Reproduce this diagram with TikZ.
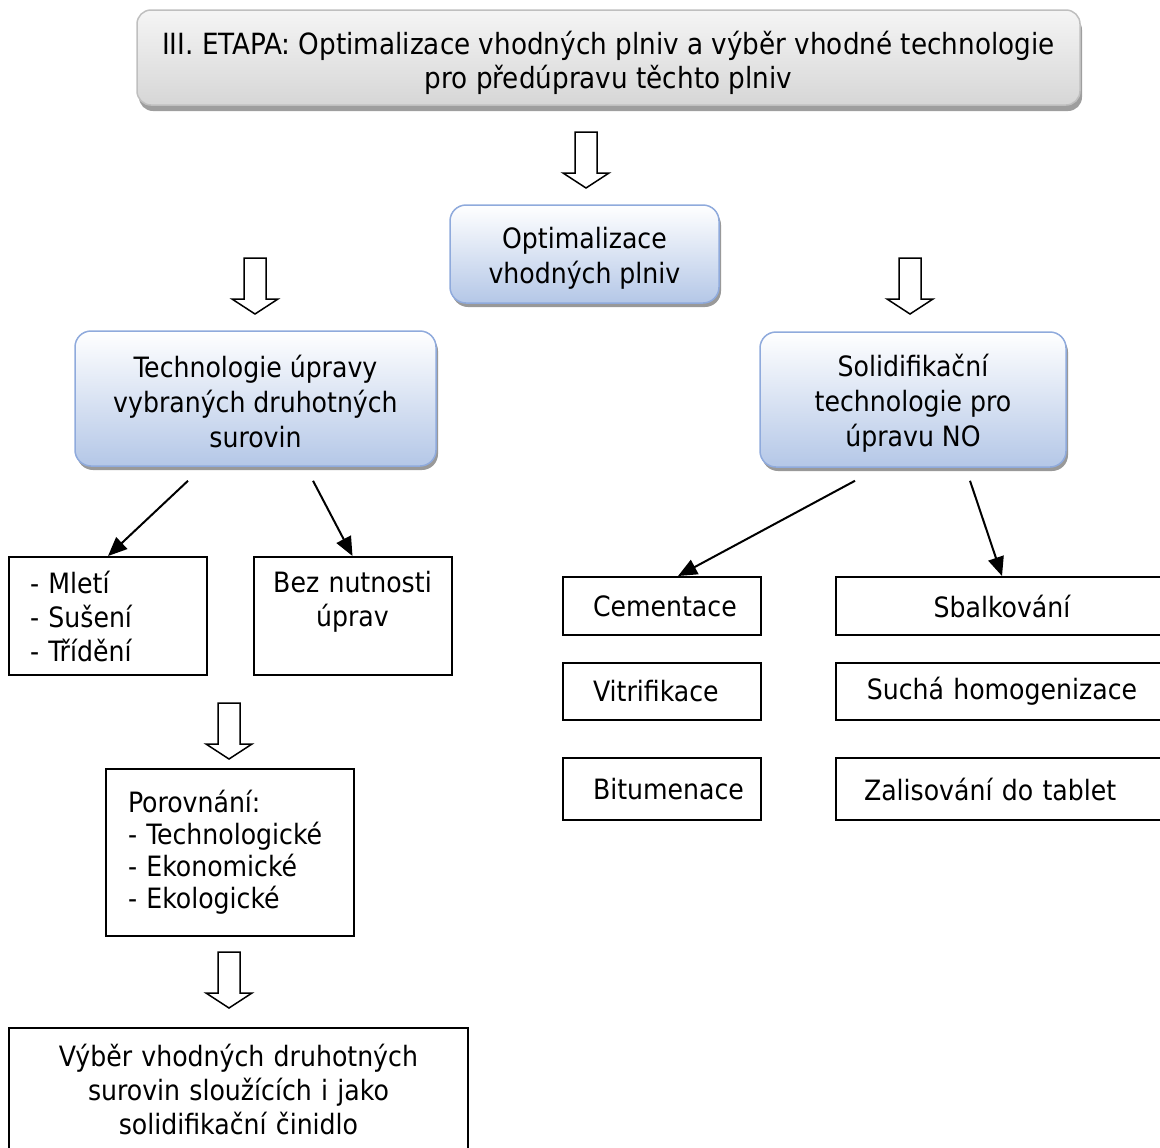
\documentclass[tikz,border=0pt]{standalone}
\usepackage{fontspec}
\setmainfont{DejaVu Sans Condensed}
\usepackage{tikz}
\usetikzlibrary{arrows.meta, shadows}

\definecolor{edgeblue}{HTML}{8FAADC}
\definecolor{fillblue}{HTML}{B4C7E7}
\newcommand{\lowtext}[1]{\rule{0pt}{#1}} % pushes the first line down a little

\begin{document}
\begin{tikzpicture}[
                x=0.5pt, y=-0.5pt, % one unit is one pixel of the sketch
                every node/.style={font=\fontsize{14}{17}\selectfont, line width=1pt},
                plainbox/.style={draw, rectangle, inner ysep=0pt}, % black frames
                bluebox/.style={draw=edgeblue, line width=0.75pt, rounded corners=8pt, align=center,
                    font=\fontsize{14}{17.5}\selectfont, top color=white, bottom color=fillblue,
                    drop shadow={shadow xshift=1pt, shadow yshift=-2pt, fill=black!40, opacity=1}},
                graybox/.style={draw=black!25, line width=0.75pt, rounded corners=7pt, align=center,
                    font=\fontsize{14.6}{17.3}\selectfont, top color=black!4, bottom color=black!16,
                    drop shadow={shadow xshift=1pt, shadow yshift=-3pt, fill=black!38, opacity=1}},
                link/.style={-{Triangle[length=9.5pt, width=8pt]}, line width=1pt}, % thin arrows
                hollow/.style={draw, line width=0.75pt, fill=white} % block arrows
                ]
                \clip (0,0) rectangle (1160,1147);

                % rounded boxes
                \node[graybox, minimum width=471.5pt, minimum height=47.5pt] (etapa) at (608.5,57.5)
                    {\lowtext{17pt}III. ETAPA: Optimalizace vhodných plniv a výběr vhodné technologie\\pro předúpravu těchto plniv};
                \node[bluebox, minimum width=134.5pt, minimum height=49pt] (plniva) at (584.5,254)
                    {\lowtext{14.5pt}Optimalizace\\vhodných plniv};
                \node[bluebox, minimum width=180.5pt, minimum height=67.5pt] (druhot) at (255.5,398.5)
                    {\lowtext{14.5pt}Technologie úpravy\\vybraných druhotných\\surovin};
                \node[bluebox, minimum width=153pt, minimum height=67.5pt] (solid) at (913,399.5)
                    {\lowtext{14.5pt}Solidifikační\\technologie pro\\úpravu NO};

                % left branch
                \node[plainbox, text width=78pt, inner xsep=10.5pt, minimum height=59pt, align=left] (mleti) at (108,616)
                    {- Mletí\\- Sušení\\- Třídění};
                \node[plainbox, text width=90pt, inner xsep=4.5pt, minimum height=59pt, align=center] (bez) at (352.5,616)
                    {Bez nutnosti\\úprav\\\mbox{}};
                \node[plainbox, text width=102pt, inner xsep=11pt, minimum height=83.5pt, align=left,
                    font=\fontsize{14}{16}\selectfont] (porov) at (230,852.5)
                    {Porovnání:\\- Technologické\\- Ekonomické\\- Ekologické};
                \node[plainbox, text width=209.5pt, inner xsep=10pt, minimum height=61pt, align=center] (vyber) at (238.5,1089)
                    {Výběr vhodných druhotných\\surovin sloužících i jako\\solidifikační činidlo};

                % right branch
                \node[plainbox, text width=69pt, inner xsep=15pt, minimum height=29pt, align=left] (cement) at (662,606) {Cementace};
                \node[plainbox, text width=69pt, inner xsep=15pt, minimum height=28.5pt, align=left] (vitri) at (662,691.5) {Vitrifikace};
                \node[plainbox, text width=69pt, inner xsep=15pt, minimum height=31pt, align=left] (bitum) at (662,789) {Bitumenace};
                \node[plainbox, text width=146pt, inner xsep=10pt, minimum height=29pt, align=center] (sbal) at (1002,606) {Sbalkování};
                \node[plainbox, text width=146pt, inner xsep=10pt, minimum height=28.5pt, align=center] (sucha) at (1002,691.5) {Suchá homogenizace};
                \node[plainbox, text width=138pt, inner xsep=14pt, minimum height=31pt, align=left] (zalis) at (1002,789) {Zalisování do tablet};

                % arrows
                \draw[link] ([xshift=-33.75pt, yshift=-7pt]druhot.south) -- (mleti.north);
                \draw[link] ([xshift=28.75pt, yshift=-7pt]druhot.south) -- (bez.north);
                \draw[link] ([xshift=-29pt, yshift=-6.5pt]solid.south) -- ([xshift=8pt]cement.north);
                \draw[link] ([xshift=28.5pt, yshift=-6.5pt]solid.south) -- (sbal.north);

                \foreach \x/\y in {586/132, 255/258, 910/258, 229/703, 229/952}
                    \draw[hollow] (\x-11,\y) -- (\x+11,\y) -- (\x+11,\y+41) -- (\x+23,\y+41)
                        -- (\x,\y+56) -- (\x-23,\y+41) -- (\x-11,\y+41) -- cycle;
            \end{tikzpicture}
\end{document}
